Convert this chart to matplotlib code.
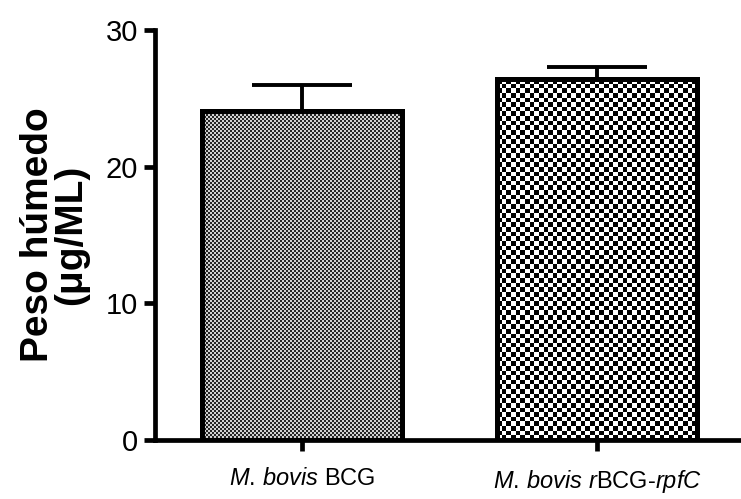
import numpy as np
import matplotlib
matplotlib.use('Agg')
import matplotlib.pyplot as plt

plt.rcParams['font.family'] = ['Liberation Sans', 'DejaVu Sans']
plt.rcParams['mathtext.fontset'] = 'custom'
plt.rcParams['mathtext.it'] = 'Liberation Sans:italic'
plt.rcParams['mathtext.rm'] = 'Liberation Sans'

# wet weight per strain (mean and upper SD)
strains = [r'$\mathit{M.\,bovis}$ BCG', r'$\mathit{M.\,bovis\ r}$BCG-$\mathit{rpfC}$']
peso = [24.1, 26.4]
sd = [1.9, 0.9]

# checker cell size (pixels) and the two shades for each bar
cell_px = [2.0, 4.6]
shades = [('#262626', '#d2d2d2'), ('#000000', '#ffffff')]

fig = plt.figure(figsize=(7.41, 4.99), dpi=100)
ax = fig.add_axes([155/741, 1 - 440/499, 1 - 155/741, 410/499])

x = np.arange(len(peso))
width = 0.675
bars = ax.bar(x, peso, width, facecolor='none', edgecolor='black',
              linewidth=3.6, zorder=3)
ax.errorbar(x, peso, yerr=[np.zeros(len(sd)), sd], fmt='none',
            ecolor='black', elinewidth=2.8, capsize=36, capthick=2.8, zorder=2)

ax.set_xlim(-0.498, 1.488)
ax.set_ylim(0, 30)

# fill each bar with a checkerboard image clipped to the bar
fig.canvas.draw()
for b, c, (dark, light) in zip(bars, cell_px, shades):
    bb = b.get_window_extent()
    nx = max(1, int(round(bb.width / c)))
    ny = max(1, int(round(bb.height / c)))
    board = (np.indices((ny, nx)).sum(axis=0) % 2).astype(float)
    cmap = matplotlib.colors.ListedColormap([dark, light])
    x0, y0 = b.get_x(), b.get_y()
    im = ax.imshow(board, cmap=cmap, interpolation='nearest', aspect='auto',
                   extent=[x0, x0 + b.get_width(), y0, y0 + b.get_height()],
                   zorder=1)
    im.set_clip_path(b)
ax.set_xlim(-0.498, 1.488)
ax.set_ylim(0, 30)

ax.spines['top'].set_visible(False)
ax.spines['right'].set_visible(False)
ax.spines['left'].set_linewidth(3.4)
ax.spines['bottom'].set_linewidth(3.4)

ax.set_yticks([0, 10, 20, 30])
ax.set_xticks(x)
ax.set_xticklabels(strains, fontsize=17)
ax.tick_params(axis='y', length=8, width=3.4, labelsize=21, pad=4)
ax.tick_params(axis='x', length=8, width=3.4, pad=12)

ax.set_ylabel('Peso húmedo\n(μg/ML)', fontsize=28, fontweight='bold',
              linespacing=0.92, labelpad=12)

fig.savefig('out.png', dpi=100)
